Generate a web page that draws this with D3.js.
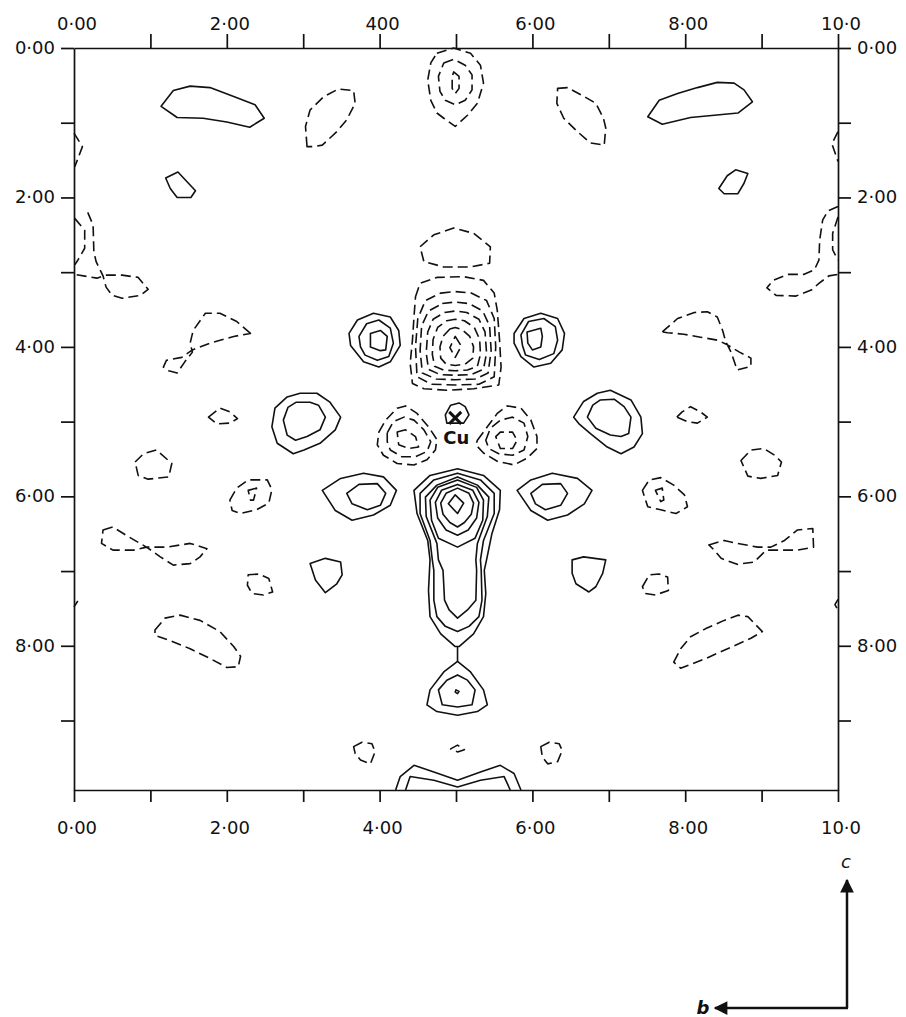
<!DOCTYPE html>
<html>
<head>
<meta charset="utf-8">
<script src="https://cdn.jsdelivr.net/npm/d3@7"></script>
<style>
  body { margin: 0; background: #fff; }
  text { font-family: "DejaVu Sans", sans-serif; fill: #111; }
</style>
</head>
<body>
<div id="chart"></div>
<script>
// ---- axis ticks / labels ----
var xTickLabels = ['0·00', '2·00', '4·00', '6·00', '8·00', '10·0'];
var xTopLabels  = ['0·00', '2·00', '400', '6·00', '8·00', '10·0'];
var xLabelAt = [0, 2, 4, 6, 8, 10];
var yTickLabels = ['0·00', '2·00', '4·00', '6·00', '8·00'];
var yLabelAt = [0, 2, 4, 6, 8];

// ---- positive contours (solid), points are [b, c] ----
var posTop = [
  [[1.14,0.78],[1.30,0.57],[1.52,0.51],[1.78,0.53],[2.09,0.65],[2.37,0.76],[2.49,0.94],[2.30,1.06],[2.00,0.99],[1.69,0.94],[1.35,0.93]],
  [[1.20,1.74],[1.36,1.66],[1.48,1.79],[1.59,1.91],[1.53,2.00],[1.35,2.00],[1.26,1.88]],
  [[7.51,0.92],[7.66,0.70],[7.90,0.61],[8.16,0.53],[8.42,0.46],[8.64,0.47],[8.77,0.56],[8.88,0.72],[8.69,0.87],[8.38,0.90],[8.07,0.93],[7.70,1.02]],
  [[8.44,1.88],[8.55,1.71],[8.66,1.63],[8.82,1.68],[8.77,1.81],[8.69,1.95],[8.51,1.95]]
];
var posRings4 = [
  [[3.60,3.82],[3.71,3.64],[3.92,3.55],[4.14,3.60],[4.25,3.78],[4.27,3.98],[4.14,4.20],[3.99,4.27],[3.79,4.20],[3.62,3.98]],
  [[3.73,3.86],[3.83,3.69],[3.99,3.64],[4.14,3.75],[4.18,3.95],[4.12,4.13],[3.97,4.18],[3.81,4.11],[3.75,4.00]],
  [[3.88,3.82],[4.01,3.78],[4.10,3.86],[4.08,4.04],[4.01,4.05],[3.88,4.00]],
  [[5.76,3.82],[5.89,3.62],[6.11,3.55],[6.33,3.62],[6.42,3.82],[6.39,4.04],[6.24,4.22],[6.02,4.27],[5.85,4.13],[5.76,3.95]],
  [[5.85,3.84],[5.95,3.66],[6.15,3.62],[6.30,3.73],[6.33,3.91],[6.28,4.09],[6.09,4.17],[5.91,4.11],[5.87,3.98]],
  [[5.93,3.80],[6.11,3.75],[6.13,3.86],[6.11,4.00],[6.00,4.04],[5.94,3.95]]
];
var posRings5 = [
  [[2.59,5.07],[2.63,4.82],[2.79,4.67],[2.96,4.62],[3.18,4.62],[3.35,4.74],[3.49,4.94],[3.42,5.11],[3.22,5.29],[3.01,5.38],[2.87,5.43],[2.66,5.29]],
  [[2.74,4.98],[2.80,4.81],[2.91,4.74],[3.09,4.74],[3.20,4.78],[3.29,4.94],[3.22,5.11],[3.05,5.20],[2.90,5.25],[2.79,5.18]],
  [[6.54,4.94],[6.67,4.73],[6.85,4.62],[7.02,4.58],[7.29,4.71],[7.42,4.94],[7.44,5.16],[7.33,5.34],[7.16,5.43],[6.98,5.34],[6.76,5.16],[6.61,5.03]],
  [[6.72,4.94],[6.79,4.78],[6.89,4.71],[7.07,4.70],[7.20,4.80],[7.29,4.94],[7.26,5.16],[7.16,5.20],[7.02,5.18],[6.83,5.09]],
  [[4.86,4.91],[4.93,4.78],[5.04,4.75],[5.12,4.80],[5.17,4.91],[5.10,5.02],[4.88,5.02]]
];
var posRings6 = [
  [[3.25,5.92],[3.49,5.76],[3.79,5.69],[4.05,5.74],[4.22,5.92],[4.14,6.12],[3.92,6.25],[3.64,6.32],[3.42,6.19]],
  [[3.57,5.96],[3.73,5.84],[3.97,5.83],[4.08,5.96],[4.01,6.12],[3.84,6.18],[3.64,6.10]],
  [[5.80,5.92],[5.98,5.78],[6.26,5.69],[6.59,5.76],[6.78,5.92],[6.68,6.10],[6.46,6.25],[6.20,6.32],[5.98,6.19]],
  [[5.98,5.96],[6.13,5.84],[6.37,5.83],[6.46,5.96],[6.37,6.12],[6.17,6.18],[6.04,6.10]],
  [[3.09,6.90],[3.29,6.83],[3.49,6.88],[3.51,7.05],[3.44,7.17],[3.29,7.29],[3.16,7.12]],
  [[6.52,6.85],[6.67,6.81],[6.96,6.85],[6.92,7.03],[6.83,7.21],[6.74,7.28],[6.57,7.17],[6.52,7.03]]
];
var posColumn = [
  [[5.02,5.63],[5.36,5.72],[5.58,5.92],[5.57,6.18],[5.47,6.50],[5.40,6.85],[5.37,6.99],[5.39,7.30],[5.36,7.61],[5.23,7.84],[5.04,8.01],[4.99,8.01],[4.80,7.84],[4.66,7.61],[4.64,7.26],[4.66,6.85],[4.63,6.59],[4.49,6.23],[4.45,5.92],[4.66,5.72]],
  [[5.02,5.69],[5.32,5.78],[5.50,5.96],[5.50,6.23],[5.36,6.59],[5.32,6.85],[5.33,6.99],[5.34,7.39],[5.30,7.61],[5.17,7.74],[5.02,7.81],[4.86,7.74],[4.75,7.61],[4.71,7.39],[4.71,6.99],[4.69,6.85],[4.66,6.59],[4.53,6.23],[4.53,5.96],[4.71,5.78]],
  [[5.02,5.74],[5.28,5.85],[5.43,6.01],[5.41,6.27],[5.28,6.63],[5.26,6.85],[5.27,6.99],[5.26,7.39],[5.15,7.52],[5.02,7.63],[4.91,7.52],[4.85,7.39],[4.83,6.99],[4.77,6.85],[4.75,6.63],[4.61,6.27],[4.60,6.01],[4.75,5.85]],
  [[5.02,5.78],[5.27,5.88],[5.36,6.05],[5.35,6.32],[5.25,6.56],[5.02,6.68],[4.77,6.56],[4.68,6.32],[4.66,6.05],[4.76,5.88]],
  [[5.02,5.84],[5.22,5.92],[5.30,6.08],[5.27,6.29],[5.16,6.45],[5.02,6.52],[4.87,6.45],[4.76,6.29],[4.73,6.08],[4.81,5.92]],
  [[5.02,5.89],[5.17,5.96],[5.23,6.09],[5.20,6.24],[5.11,6.35],[5.02,6.41],[4.92,6.35],[4.83,6.24],[4.80,6.09],[4.87,5.96]],
  [[4.99,5.98],[5.10,6.09],[5.02,6.23],[4.90,6.10]],
  [[5.02,8.21],[5.19,8.35],[5.36,8.59],[5.41,8.79],[5.28,8.88],[5.02,8.93],[4.75,8.88],[4.62,8.79],[4.66,8.59],[4.84,8.35]],
  [[5.02,8.39],[5.15,8.46],[5.25,8.59],[5.21,8.79],[5.02,8.82],[4.82,8.79],[4.77,8.59],[4.88,8.46]],
  [[5.00,8.59],[5.04,8.61],[5.02,8.64],[4.99,8.62]]
];
// open solid pieces: saddle neck and the arch cut by the lower frame
var posOpen = [
  [[5.02,8.01],[5.02,8.21]],
  [[4.21,9.93],[4.27,9.75],[4.45,9.60],[4.71,9.69],[5.02,9.80],[5.32,9.69],[5.58,9.60],[5.76,9.71],[5.85,9.93]],
  [[4.34,9.93],[4.40,9.75],[4.71,9.80],[5.02,9.89],[5.32,9.80],[5.63,9.75],[5.71,9.93]]
];

// ---- negative contours (dashed) ----
var negTop = [
  [[3.05,1.32],[3.03,1.05],[3.09,0.83],[3.27,0.65],[3.46,0.55],[3.66,0.57],[3.68,0.74],[3.57,0.96],[3.44,1.12],[3.25,1.30],[3.14,1.32]],
  [[6.33,0.54],[6.46,0.53],[6.68,0.65],[6.83,0.74],[6.93,0.94],[6.96,1.07],[6.94,1.30],[6.76,1.27],[6.59,1.12],[6.41,0.94],[6.32,0.74]],
  [[4.75,0.07],[4.97,0.00],[5.19,0.07],[5.32,0.23],[5.36,0.47],[5.28,0.74],[5.15,0.90],[4.99,1.05],[4.84,0.94],[4.75,0.87],[4.67,0.70],[4.63,0.43],[4.67,0.20]],
  [[4.84,0.20],[4.97,0.15],[5.12,0.23],[5.21,0.36],[5.21,0.56],[5.12,0.70],[4.99,0.76],[4.86,0.70],[4.79,0.58],[4.77,0.38]],
  [[4.97,0.32],[5.04,0.38],[5.04,0.54],[4.99,0.61],[4.95,0.54],[4.95,0.38]],
  [[4.53,2.66],[4.71,2.50],[4.97,2.41],[5.23,2.48],[5.45,2.66],[5.44,2.88],[5.19,2.93],[4.84,2.93],[4.58,2.86]]
];
var negCluster = [
  [[4.47,3.33],[4.53,3.15],[4.75,3.07],[5.10,3.06],[5.36,3.11],[5.50,3.28],[5.54,3.51],[5.57,3.91],[5.59,4.27],[5.56,4.51],[5.23,4.56],[4.88,4.58],[4.58,4.56],[4.43,4.49],[4.40,4.22],[4.43,3.91],[4.45,3.60]],
  [[4.80,3.28],[4.99,3.26],[5.20,3.28],[5.40,3.38],[5.50,3.62],[5.52,4.00],[5.50,4.40],[5.30,4.50],[4.99,4.51],[4.68,4.50],[4.49,4.40],[4.47,4.00],[4.50,3.62],[4.60,3.38]],
  [[4.82,3.42],[4.99,3.40],[5.17,3.42],[5.35,3.52],[5.44,3.72],[5.46,4.05],[5.42,4.35],[5.25,4.43],[4.99,4.44],[4.74,4.43],[4.56,4.35],[4.53,4.05],[4.55,3.72],[4.64,3.52]],
  [[4.85,3.54],[4.99,3.52],[5.14,3.54],[5.30,3.63],[5.38,3.80],[5.40,4.08],[5.36,4.30],[5.20,4.37],[4.99,4.38],[4.79,4.37],[4.64,4.30],[4.61,4.08],[4.63,3.80],[4.70,3.63]],
  [[4.88,3.65],[4.99,3.63],[5.11,3.65],[5.24,3.74],[5.31,3.90],[5.32,4.10],[5.28,4.26],[5.15,4.31],[4.99,4.32],[4.84,4.31],[4.72,4.26],[4.69,4.10],[4.70,3.90],[4.76,3.74]],
  [[4.92,3.76],[4.99,3.74],[5.08,3.77],[5.18,3.86],[5.23,4.00],[5.22,4.15],[5.12,4.23],[4.99,4.25],[4.87,4.23],[4.80,4.15],[4.79,4.00],[4.83,3.86]],
  [[4.99,3.86],[5.07,3.99],[4.99,4.14],[4.92,4.01]]
];
var negLobes = [
  [[3.99,5.14],[4.08,4.98],[4.23,4.82],[4.34,4.79],[4.49,4.89],[4.64,5.07],[4.75,5.24],[4.73,5.38],[4.62,5.51],[4.45,5.58],[4.23,5.56],[4.05,5.45],[3.97,5.31]],
  [[4.10,5.15],[4.18,5.00],[4.32,4.94],[4.45,4.98],[4.58,5.11],[4.67,5.27],[4.62,5.40],[4.47,5.47],[4.29,5.47],[4.14,5.38],[4.10,5.27]],
  [[4.23,5.14],[4.34,5.11],[4.47,5.20],[4.51,5.34],[4.38,5.36],[4.25,5.31]],
  [[5.28,5.25],[5.41,5.07],[5.54,4.89],[5.67,4.79],[5.85,4.82],[5.98,4.98],[6.06,5.20],[6.06,5.36],[5.93,5.49],[5.76,5.58],[5.54,5.53],[5.36,5.42],[5.26,5.31]],
  [[5.39,5.25],[5.45,5.09],[5.58,4.98],[5.74,4.94],[5.89,5.02],[5.94,5.20],[5.89,5.38],[5.74,5.45],[5.56,5.43],[5.43,5.36]],
  [[5.52,5.20],[5.58,5.14],[5.74,5.14],[5.80,5.25],[5.74,5.36],[5.58,5.36]]
];
var negLeft = [
  [[2.31,3.82],[2.13,3.66],[1.91,3.55],[1.72,3.55],[1.56,3.78],[1.52,3.95],[1.55,4.07],[1.45,4.20],[1.35,4.35],[1.24,4.32],[1.17,4.27],[1.21,4.18],[1.41,4.14],[1.55,4.04],[1.78,3.95],[2.09,3.86]],
  [[1.76,4.94],[1.91,4.82],[2.04,4.87],[2.14,4.96],[2.04,5.02],[1.87,5.03]],
  [[0.80,5.54],[0.91,5.43],[1.08,5.38],[1.28,5.56],[1.24,5.74],[0.97,5.77],[0.84,5.72]],
  [[2.04,6.05],[2.13,5.89],[2.28,5.78],[2.53,5.78],[2.59,5.91],[2.55,6.09],[2.39,6.18],[2.18,6.23],[2.07,6.19]],
  [[2.28,5.92],[2.39,5.89],[2.35,6.05],[2.31,6.05]],
  [[0.38,6.45],[0.51,6.41],[0.68,6.52],[0.95,6.68],[1.13,6.81],[1.30,6.92],[1.52,6.90],[1.65,6.81],[1.74,6.70],[1.52,6.63],[1.21,6.68],[0.95,6.68],[0.78,6.72],[0.51,6.72],[0.36,6.63]],
  [[2.28,7.05],[2.42,7.04],[2.55,7.10],[2.60,7.28],[2.48,7.32],[2.33,7.30],[2.27,7.19]],
  [[1.06,7.79],[1.19,7.63],[1.39,7.59],[1.65,7.66],[1.91,7.81],[2.09,8.01],[2.18,8.14],[2.15,8.28],[2.00,8.29],[1.78,8.17],[1.52,8.04],[1.26,7.93],[1.06,7.86]]
];
var negRight = [
  [[7.70,3.80],[7.90,3.62],[8.12,3.54],[8.29,3.53],[8.42,3.60],[8.49,3.78],[8.53,3.93],[8.60,4.07],[8.68,4.31],[8.86,4.26],[8.86,4.15],[8.71,4.07],[8.53,3.96],[8.42,3.91],[8.20,3.87],[7.98,3.83],[7.77,3.81]],
  [[7.89,4.94],[7.96,4.87],[8.07,4.80],[8.20,4.87],[8.29,4.94],[8.16,5.02],[8.03,5.00]],
  [[8.73,5.52],[8.86,5.38],[9.03,5.36],[9.17,5.45],[9.26,5.54],[9.21,5.72],[8.99,5.76],[8.82,5.73]],
  [[7.44,5.92],[7.53,5.78],[7.68,5.75],[7.85,5.85],[7.99,5.98],[8.03,6.14],[7.88,6.23],[7.68,6.18],[7.51,6.14]],
  [[7.61,5.92],[7.70,5.89],[7.72,6.05],[7.68,6.07]],
  [[8.31,6.65],[8.51,6.59],[8.68,6.63],[8.95,6.68],[9.12,6.68],[9.30,6.59],[9.47,6.45],[9.67,6.43],[9.68,6.68],[9.47,6.72],[9.23,6.72],[9.06,6.72],[8.90,6.88],[8.68,6.91],[8.47,6.83],[8.38,6.72]],
  [[7.44,7.21],[7.53,7.05],[7.66,7.04],[7.77,7.08],[7.78,7.26],[7.61,7.32],[7.48,7.30]],
  [[7.85,8.22],[7.94,8.04],[8.07,7.88],[8.27,7.77],[8.51,7.66],[8.69,7.59],[8.82,7.61],[9.01,7.81],[8.86,7.90],[8.51,8.06],[8.27,8.17],[7.94,8.30]]
];
var negBottom = [
  [[3.66,9.35],[3.77,9.29],[3.90,9.31],[3.94,9.42],[3.88,9.58],[3.75,9.53],[3.68,9.44]],
  [[4.93,9.38],[5.02,9.33],[5.11,9.39],[5.02,9.42]],
  [[6.11,9.35],[6.22,9.29],[6.35,9.31],[6.39,9.40],[6.33,9.55],[6.20,9.58],[6.13,9.49]]
];
// dashed pieces cut by the left / right frame
var negOpen = [
  [[0.00,1.14],[0.11,1.32],[0.01,1.59]],
  [[10.0,1.12],[9.92,1.28],[10.0,1.52]],
  [[0.01,2.28],[0.14,2.44],[0.14,2.68],[0.05,2.84],[0.01,2.90]],
  [[0.18,2.20],[0.25,2.37],[0.26,2.73],[0.29,2.86],[0.38,3.05],[0.42,3.20],[0.50,3.31],[0.63,3.35],[0.87,3.31],[0.97,3.23],[0.84,3.07],[0.63,3.04],[0.41,3.04],[0.30,3.08],[0.01,3.03]],
  [[10.0,2.26],[9.93,2.48],[9.93,2.70],[10.0,2.84]],
  [[10.0,2.12],[9.87,2.18],[9.80,2.30],[9.76,2.57],[9.75,2.84],[9.69,2.97],[9.55,3.03],[9.34,3.03],[9.15,3.11],[9.07,3.21],[9.19,3.31],[9.45,3.32],[9.65,3.24],[9.75,3.15],[9.88,3.05],[10.0,3.03]],
  [[0.00,7.48],[0.05,7.40]],
  [[10.0,7.38],[9.96,7.45],[10.0,7.52]]
];

// Cu atom position
var cuAtom = [4.99, 4.95];

var width = 906, height = 1017;
var svg = d3.select('#chart').append('svg')
  .attr('width', width)
  .attr('height', height);

var x = d3.scaleLinear().domain([0, 10]).range([74, 838]);
var y = d3.scaleLinear().domain([0, 9.93]).range([48, 790]);

var closedLine = d3.line()
  .x(function (d) { return x(d[0]); })
  .y(function (d) { return y(d[1]); })
  .curve(d3.curveLinearClosed);
var openLine = d3.line()
  .x(function (d) { return x(d[0]); })
  .y(function (d) { return y(d[1]); });

var drawSet = function (rings, closed, dashed) {
  svg.append('g').selectAll('path').data(rings)
    .enter().append('path')
    .attr('d', closed ? closedLine : openLine)
    .attr('fill', 'none')
    .attr('stroke', '#111')
    .attr('stroke-width', 1.6)
    .attr('stroke-linejoin', 'round')
    .attr('stroke-dasharray', dashed ? '10,5' : null);
};

// frame + ticks
var axisTop = d3.axisTop(x).tickValues(d3.range(1, 11)).tickSize(14).tickSizeOuter(0).tickFormat('');
var axisBottom = d3.axisBottom(x).tickValues(d3.range(0, 11)).tickSize(12).tickSizeOuter(0).tickFormat('');
var axisLeft = d3.axisLeft(y).tickValues(d3.range(0, 10)).tickSize(13).tickSizeOuter(0).tickFormat('');
var axisRight = d3.axisRight(y).tickValues(d3.range(0, 10)).tickSize(13).tickSizeOuter(0).tickFormat('');

svg.append('g').attr('transform', 'translate(0,' + y(0) + ')').call(axisTop);
svg.append('g').attr('transform', 'translate(0,' + y(9.93) + ')').call(axisBottom);
svg.append('g').attr('transform', 'translate(' + x(0) + ',0)').call(axisLeft);
svg.append('g').attr('transform', 'translate(' + x(10) + ',0)').call(axisRight);
svg.selectAll('.domain, .tick line').attr('stroke', '#111').attr('stroke-width', 1.7);

// tick labels
svg.append('g').selectAll('text').data(xLabelAt).enter().append('text')
  .attr('x', function (d) { return x(d) + 3; })
  .attr('y', 30)
  .attr('text-anchor', 'middle')
  .attr('font-size', 18)
  .text(function (d, i) { return xTopLabels[i]; });
svg.append('g').selectAll('text').data(xLabelAt).enter().append('text')
  .attr('x', function (d) { return x(d) + 3; })
  .attr('y', 834)
  .attr('text-anchor', 'middle')
  .attr('font-size', 18)
  .text(function (d, i) { return xTickLabels[i]; });
svg.append('g').selectAll('text').data(yLabelAt).enter().append('text')
  .attr('x', 55)
  .attr('y', function (d) { return y(d) + 6; })
  .attr('text-anchor', 'end')
  .attr('font-size', 18)
  .text(function (d, i) { return yTickLabels[i]; });
svg.append('g').selectAll('text').data(yLabelAt).enter().append('text')
  .attr('x', 857)
  .attr('y', function (d) { return y(d) + 6; })
  .attr('font-size', 18)
  .text(function (d, i) { return yTickLabels[i]; });

// contours
drawSet([].concat(posTop, posRings4, posRings5, posRings6, posColumn), true, false);
drawSet(posOpen, false, false);
drawSet([].concat(negTop, negCluster, negLobes, negLeft, negRight, negBottom), true, true);
drawSet(negOpen, false, true);

// Cu mark
var cx = x(cuAtom[0]), cy = y(cuAtom[1]);
svg.append('path')
  .attr('d', 'M' + (cx - 6) + ',' + (cy - 6) + 'L' + (cx + 6) + ',' + (cy + 6) +
             'M' + (cx + 6) + ',' + (cy - 6) + 'L' + (cx - 6) + ',' + (cy + 6))
  .attr('stroke', '#111').attr('stroke-width', 3);
svg.append('text')
  .attr('x', cx + 1).attr('y', cy + 26)
  .attr('text-anchor', 'middle')
  .attr('font-size', 18).attr('font-weight', 'bold')
  .text('Cu');

// b / c axes directions
var defs = svg.append('defs');
defs.append('marker')
  .attr('id', 'head').attr('viewBox', '0 0 10 10')
  .attr('refX', 9).attr('refY', 5)
  .attr('markerWidth', 6.5).attr('markerHeight', 5.5)
  .attr('markerUnits', 'strokeWidth')
  .attr('orient', 'auto')
  .append('path').attr('d', 'M0,0L10,5L0,10z').attr('fill', '#111');
svg.append('line').attr('x1', 847).attr('y1', 1008).attr('x2', 847).attr('y2', 880)
  .attr('stroke', '#111').attr('stroke-width', 2.5).attr('marker-end', 'url(#head)');
svg.append('line').attr('x1', 848).attr('y1', 1008).attr('x2', 715).attr('y2', 1008)
  .attr('stroke', '#111').attr('stroke-width', 2.5).attr('marker-end', 'url(#head)');
svg.append('text').attr('x', 846).attr('y', 868).attr('text-anchor', 'middle')
  .attr('font-size', 18).attr('font-style', 'italic').text('c');
svg.append('text').attr('x', 703).attr('y', 1014).attr('text-anchor', 'middle')
  .attr('font-size', 18).attr('font-style', 'italic').attr('font-weight', 'bold').text('b');
</script>
</body>
</html>
